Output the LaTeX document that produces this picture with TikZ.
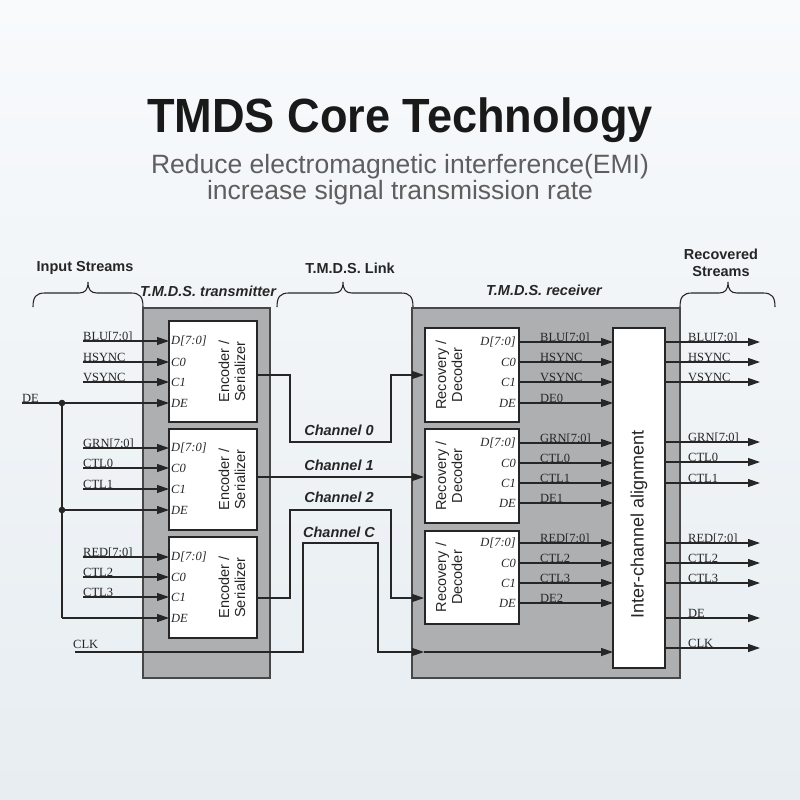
\documentclass[tikz,border=0pt]{standalone}
\usepackage{fontspec}
\usepackage{graphicx}
\setmainfont{Liberation Serif}
\setsansfont{Liberation Sans}
\usetikzlibrary{arrows.meta}
\definecolor{bgtop}{HTML}{F8FAFC}
\definecolor{bgbot}{HTML}{E7EDF1}
\definecolor{grayfill}{HTML}{ADAFB0}
\definecolor{ln}{HTML}{262626}
\definecolor{subc}{HTML}{5E5E5E}
\newcommand{\mybracepath}[3]{(#1,307) .. controls (#1,297) and (#1+3,293) .. (#1+12,293) -- (#2-9,293) .. controls (#2-3,293) and (#2,290) .. (#2,282) .. controls (#2,290) and (#2+3,293) .. (#2+9,293) -- (#3-12,293) .. controls (#3-3,293) and (#3,297) .. (#3,307)}
\begin{document}
\begin{tikzpicture}[x=1pt,y=-1pt,
  sig/.style={draw=ln, line width=1.2pt, -{Triangle[length=12pt,width=8pt]}},
  wire/.style={draw=ln, line width=1.2pt},
  gbox/.style={draw=ln!85, line width=1.3pt, fill=grayfill, inner sep=0pt, outer sep=0pt},
  wbox/.style={draw=ln, line width=1.3pt, fill=white, inner sep=0pt, outer sep=0pt},
  lab/.style={inner sep=0pt, anchor=base west, text=ln, font=\fontsize{12.5}{12.5}\selectfont},
  port/.style={inner sep=0pt, text=ln, font=\fontsize{12.5}{12.5}\selectfont\itshape},
  head/.style={inner sep=0pt, text=ln, align=center, font=\sffamily\bfseries\fontsize{14.5}{17.5}\selectfont},
  headit/.style={inner sep=0pt, text=ln, font=\sffamily\bfseries\itshape\fontsize{14.5}{17}\selectfont},
  blk/.style={inner sep=0pt, rotate=90, align=center, text=ln, font=\sffamily\fontsize{14.5}{16}\selectfont},
  chan/.style={inner sep=0pt, text=ln, font=\sffamily\bfseries\itshape\fontsize{14.5}{14.5}\selectfont}
]
\useasboundingbox (0,0) rectangle (800,800);
\shade[top color=bgtop, bottom color=bgbot] (0,0) rectangle (800,800);

% title
\node[inner sep=0pt, anchor=base, text=black!90, font=\sffamily\bfseries\fontsize{48}{48}\selectfont] (title) at (400,132) {\scalebox{0.94}[1]{TMDS Core Technology}};
\node[inner sep=0pt, anchor=base, text=subc, font=\sffamily\fontsize{26.5}{26.5}\selectfont] (sub1) at (400,173) {Reduce electromagnetic interference(EMI)};
\node[inner sep=0pt, anchor=base, text=subc, font=\sffamily\fontsize{26.5}{26.5}\selectfont] (sub2) at (400,199) {increase signal transmission rate};

% headers and braces
\node[head] (hin) at (85,268) {Input Streams};
\node[headit] (htx) at (208,291) {T.M.D.S. transmitter};
\node[head] (hlink) at (350,268) {T.M.D.S. Link};
\node[headit] (hrx) at (544,290) {T.M.D.S. receiver};
\node[head] (hout) at (721,263) {Recovered\\Streams};
\draw[ln, line width=1.1pt] \mybracepath{33}{88}{143};
\draw[ln, line width=1.1pt] \mybracepath{277}{343}{413};
\draw[ln, line width=1.1pt] \mybracepath{680}{728}{775};

% containers
\node[gbox, minimum width=127pt, minimum height=370pt] (tx) at (206.5,493) {};
\node[gbox, minimum width=268pt, minimum height=370pt] (rx) at (546,493) {};

% encoders
\node[wbox, minimum width=88pt, minimum height=101pt] (enc1) at (213,371.5) {};
\node[wbox, minimum width=88pt, minimum height=101pt] (enc2) at (213,479.5) {};
\node[wbox, minimum width=88pt, minimum height=101pt] (enc3) at (213,587.5) {};
\foreach \b in {enc1,enc2,enc3}
  \node[blk] (\b t) at ([xshift=19pt]\b.center) {Encoder /\\Serializer};

% decoders
\node[wbox, minimum width=94pt, minimum height=94pt] (dec1) at (472,375) {};
\node[wbox, minimum width=94pt, minimum height=94pt] (dec2) at (472,476) {};
\node[wbox, minimum width=94pt, minimum height=93pt] (dec3) at (472,577.5) {};
\foreach \b in {dec1,dec2,dec3}
  \node[blk] (\b t) at ([xshift=-23pt]\b.center) {Recovery /\\Decoder};

% alignment
\node[wbox, minimum width=52pt, minimum height=340pt] (align) at (639,498) {};
\node[blk, font=\sffamily\fontsize{18}{18}\selectfont] (alignt) at (639,524) {Inter-channel alignment};

% encoder ports
\foreach \b/\ya/\yb/\yc/\yd in {enc1/341/362/382/403, enc2/448/468/489/510, enc3/557/577/597/618}{
  \foreach \yy/\tx/\k in {\ya/D[7:0]/d,\yb/C0/a,\yc/C1/b,\yd/DE/e}
    \node[port, anchor=west] (\b\k) at (171,\yy) {\tx};
}
% decoder ports
\foreach \b/\ya/\yb/\yc/\yd in {dec1/342/362/382/403, dec2/443/463/483/503, dec3/543/563/583/603}{
  \foreach \yy/\tx/\k in {\ya/D[7:0]/d,\yb/C0/a,\yc/C1/b,\yd/DE/e}
    \node[port, anchor=east] (\b\k) at (516,\yy) {\tx};
}

% transmitter inputs
\foreach \nm/\yy/\tx/\b in {iblu/341/BLU[7:0]/enc1, ihs/362/HSYNC/enc1, ivs/382/VSYNC/enc1, igrn/448/GRN[7:0]/enc2, ictla/468/CTL0/enc2, ictlb/489/CTL1/enc2, ired/557/RED[7:0]/enc3, ictlc/577/CTL2/enc3, ictld/597/CTL3/enc3}{
  \coordinate (\nm s) at (83,\yy);
  \node[lab] (\nm) at (83,\yy-0.5) {\tx};
  \draw[sig] (\nm s) -- (\nm s -| \b.west);
}
% DE distribution
\coordinate (des) at (22,403);
\node[lab] (delab) at (22,402) {DE};
\coordinate (dot1) at (62,403);
\coordinate (dot2) at (62,510);
\coordinate (decorner) at (62,618);
\draw[sig] (des) -- (des -| enc1.west);
\draw[wire] (dot1) -- (decorner);
\draw[sig] (dot2) -- (dot2 -| enc2.west);
\draw[sig] (decorner) -- (decorner -| enc3.west);
\fill[ln] (dot1) circle (3.3);
\fill[ln] (dot2) circle (3.3);

% CLK / Channel C
\coordinate (clks) at (75,652);
\node[lab] (clklab) at (73,648) {CLK};
\coordinate (clkin) at (424,652);
\draw[sig] (clks) -- ++(228,0) -- ++(0,-109) -- ++(75,0) -- ++(0,109) -- (clkin);
\draw[sig] (clkin) -- (clkin -| align.west);

% channels
\coordinate (c0s) at (257,375);
\coordinate (c1s) at (257,477);
\coordinate (c2s) at (257,598);
\coordinate (c0e) at (424,375);
\coordinate (c1e) at (424,477);
\coordinate (c2e) at (424,598);
\draw[sig] (c0s) -- ++(33,0) -- ++(0,67) -- ++(101,0) -- ++(0,-67) -- (c0e);
\draw[sig] (c1s) -- (c1e);
\draw[sig] (c2s) -- ++(33,0) -- ++(0,-88) -- ++(101,0) -- ++(0,88) -- (c2e);
\node[chan] (ch0) at (339,430) {Channel 0};
\node[chan] (ch1) at (339,465) {Channel 1};
\node[chan] (ch2) at (339,497) {Channel 2};
\node[chan] (chc) at (339,532) {Channel C};

% decoder outputs
\foreach \nm/\yy/\tx/\b in {oblu/342/BLU[7:0]/dec1, ohs/362/HSYNC/dec1, ovs/382/VSYNC/dec1, odea/403/DE0/dec1, ogrn/443/GRN[7:0]/dec2, octla/463/CTL0/dec2, octlb/483/CTL1/dec2, odeb/503/DE1/dec2, ored/543/RED[7:0]/dec3, octlc/563/CTL2/dec3, octld/583/CTL3/dec3, odec/603/DE2/dec3}{
  \coordinate (\nm s) at (519,\yy);
  \node[lab] (\nm) at (540,\yy-0.5) {\tx};
  \draw[sig] (\nm s) -- (\nm s -| align.west);
}

% recovered streams
\foreach \nm/\yy/\tx in {rblu/342/BLU[7:0], rhs/362/HSYNC, rvs/382/VSYNC, rgrn/442/GRN[7:0], rctla/462/CTL0, rctlb/483/CTL1, rred/543/RED[7:0], rctlc/563/CTL2, rctld/583/CTL3, rde/618/DE, rclk/648/CLK}{
  \coordinate (\nm s) at (665,\yy);
  \coordinate (\nm e) at (760,\yy);
  \node[lab] (\nm) at (688,\yy-0.5) {\tx};
  \draw[sig] (\nm s) -- (\nm e);
}
\end{tikzpicture}
\end{document}
